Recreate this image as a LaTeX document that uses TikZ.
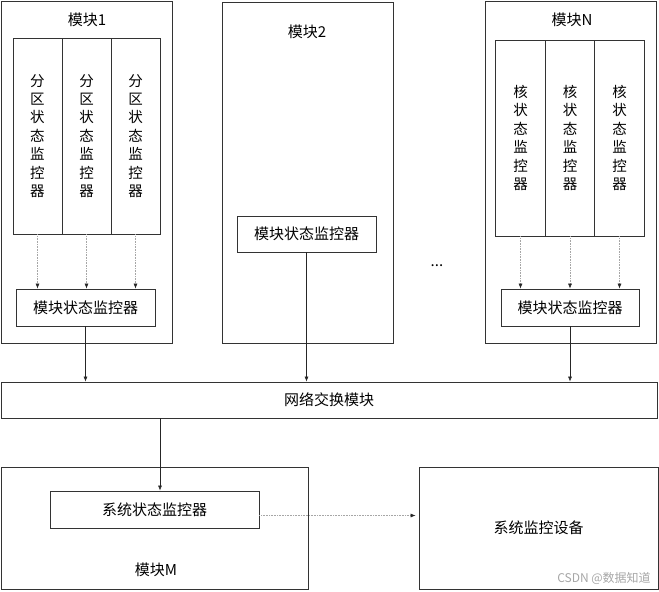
\documentclass[tikz,border=0pt]{standalone}
\usepackage{fontspec}
\setmainfont{Noto Sans CJK SC}
\usetikzlibrary{arrows.meta,positioning,calc}
\tikzstyle{mybox} = [draw=black!80, rectangle, line width=0.8pt, inner sep=0pt]
\tikzstyle{mytext} = [inner sep=0pt, font=\fontsize{15}{17}\selectfont]
\tikzstyle{colbox} = [mybox, minimum height=196pt, align=center, font=\fontsize{14.5}{18.4}\selectfont]
\tikzstyle{statebox} = [mybox, minimum height=37pt, font=\fontsize{15}{17}\selectfont]
\tikzstyle{myarrow} = [-{Latex[length=5pt,width=4pt]}, black!85, line width=0.6pt]
\tikzstyle{dotarrow} = [-{Latex[length=5pt,width=4pt,black!85]}, black!35, densely dotted, line width=0.6pt]

\begin{document}
\begin{tikzpicture}[x=1pt,y=-1pt]
  \useasboundingbox (0,0) rectangle (659,592);
  % module 1
  \begin{scope}
    \node[mybox, minimum width=171pt, minimum height=342pt] (m1) at (86.5,172) {};
    \node[mytext] (m1title) at (87,20) {模块1};
    \foreach \i/\x in {1/37.5,2/86.5,3/135.5}
      \node[colbox, minimum width=49pt] (p\i) at (\x,136) {分\\区\\状\\态\\监\\控\\器};
    \node[statebox, minimum width=139pt] (ms1) at (85.5,307.5) {模块状态监控器};
    \foreach \i in {1,2,3}
      \draw[dotarrow] (p\i.south) -- (p\i.south |- ms1.north);
  \end{scope}
  % module 2
  \begin{scope}
    \node[mybox, minimum width=171pt, minimum height=341pt] (m2) at (307.5,172.5) {};
    \node[mytext] (m2title) at (307,32) {模块2};
    \node[statebox, minimum width=139pt, minimum height=36pt] (ms2) at (306.5,234) {模块状态监控器};
  \end{scope}
  \node[mytext] (dots) at (437,266) {...};
  % module N
  \begin{scope}
    \node[mybox, minimum width=171pt, minimum height=342pt] (mN) at (570.5,172) {};
    \node[mytext] (mNtitle) at (572,20) {模块N};
    \foreach \i/\x in {1/520.5,2/570,3/619.5}
      \node[colbox, minimum width=49.5pt] (c\i) at (\x,138) {核\\状\\态\\监\\控\\器};
    \node[statebox, minimum width=138pt] (msN) at (570,307.5) {模块状态监控器};
    \foreach \i in {1,2,3}
      \draw[dotarrow] (c\i.south) -- (c\i.south |- msN.north);
  \end{scope}
  % network
  \node[mybox, minimum width=656pt, minimum height=36pt, font=\fontsize{15}{17}\selectfont] (net) at (329,400) {网络交换模块};
  \draw[myarrow] (ms1.south) -- (ms1.south |- net.north);
  \draw[myarrow] (ms2.south) -- (ms2.south |- net.north);
  \draw[myarrow] (msN.south) -- (msN.south |- net.north);
  % module M
  \node[mybox, minimum width=307pt, minimum height=122pt] (mM) at (154.5,528) {};
  \node[statebox, minimum width=209pt] (sys) at (154.5,509.5) {系统状态监控器};
  \node[mytext] (mMtitle) at (156,570) {模块M};
  \draw[myarrow] ([xshift=5.5pt]sys.north |- net.south) -- ([xshift=5.5pt]sys.north);
  % device
  \node[mybox, minimum width=239pt, minimum height=122pt, font=\fontsize{15}{17}\selectfont] (dev) at (538.5,528) {系统监控设备};
  \draw[dotarrow, shorten >=3pt] ([yshift=-6pt]sys.east) -- ([yshift=-6pt]sys.east -| dev.west);
  \node[inner sep=0pt, text=black!35, font=\fontsize{12}{14}\selectfont] (mark) at (604,578) {CSDN @数据知道};
\end{tikzpicture}
\end{document}
